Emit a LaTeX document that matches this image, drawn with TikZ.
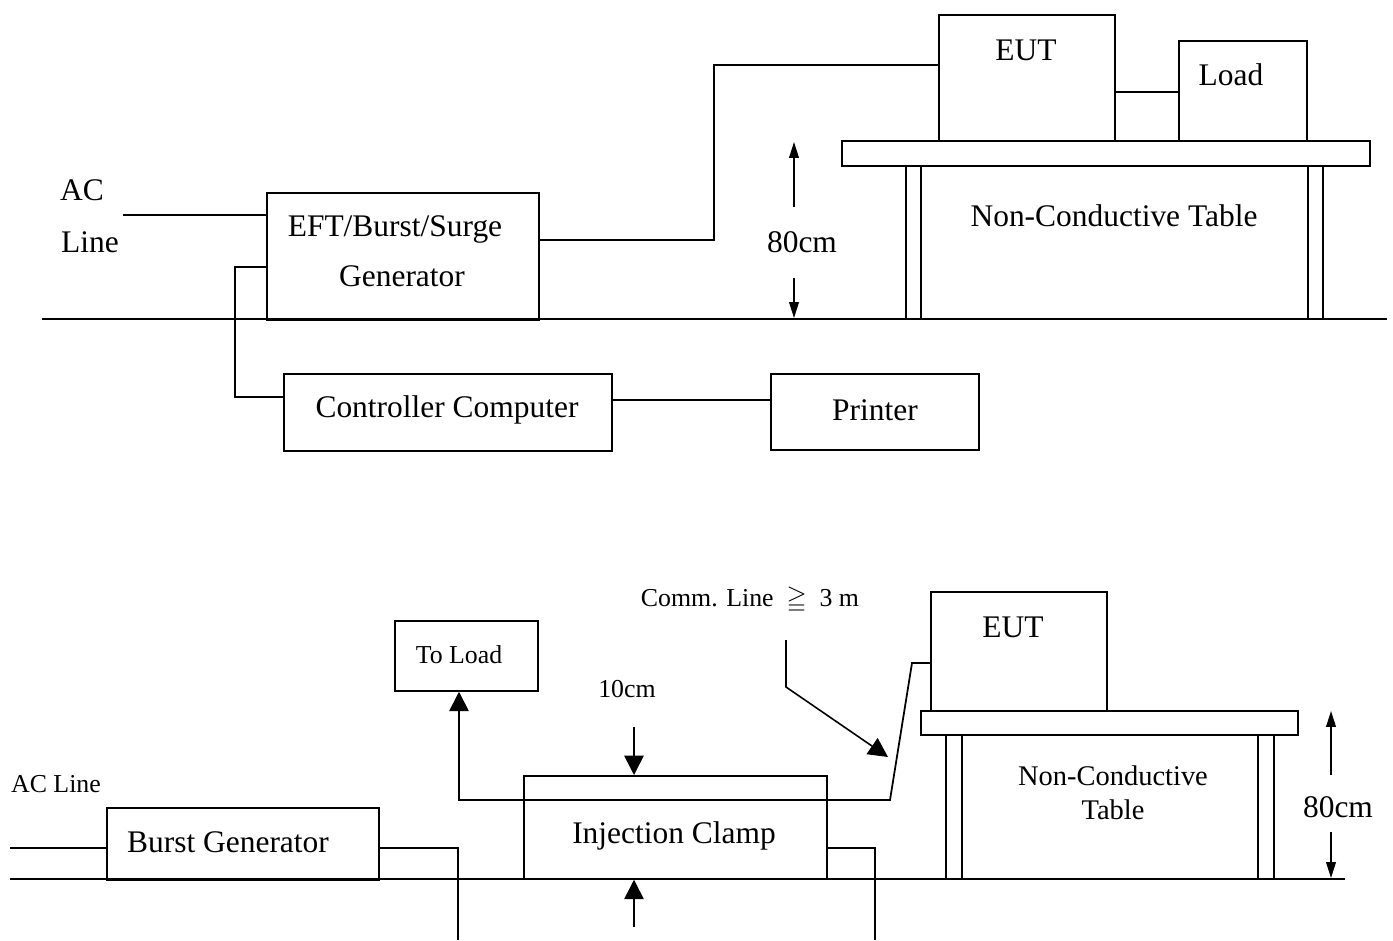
\documentclass[tikz,border=0pt]{standalone}
\usepackage{fontspec}
\setmainfont{Liberation Serif}
\usepackage{amssymb}
\usetikzlibrary{arrows.meta}

\tikzset{
    unit/.style={draw, line width=1pt, inner sep=0pt, anchor=north west},
    wire/.style={line width=1pt},
    bigtxt/.style={font=\fontsize{17.9}{21}\selectfont, inner sep=0pt},
    midtxt/.style={font=\fontsize{16.2}{19.3}\selectfont, inner sep=0pt, align=center},
    smalltxt/.style={font=\fontsize{14.7}{17}\selectfont, inner sep=0pt},
    dimarrow/.style={line width=0.9pt, -{Triangle[width=5.5pt,length=9pt]}},
    bigarrow/.style={line width=0.9pt, -{Triangle[width=11pt,length=11pt]}},
}

\begin{document}
\begin{tikzpicture}[x=0.02cm, y=-0.02cm]
    \useasboundingbox (0,0) rectangle (1393,940);

    % Upper set-up: generator, controller and printer
    \node[unit, minimum width=5.44cm, minimum height=2.54cm] (gen) at (266,192) {};
    \node[unit, minimum width=6.56cm, minimum height=1.54cm] (ctrl) at (283,373) {};
    \node[unit, minimum width=4.16cm, minimum height=1.52cm] (prn) at (770,373) {};
    \node[unit, minimum width=3.52cm, minimum height=2.52cm] (eut) at (938,14) {};
    \node[unit, minimum width=2.56cm, minimum height=2.00cm] (load) at (1178,40) {};

    \node[bigtxt] (acT) at (82,190) {AC};
    \node[bigtxt] (lineT) at (90,242) {Line};
    \node[bigtxt] (genA) at (395,229) {EFT/Burst/Surge};
    \node[bigtxt] (genB) at (402,276) {Generator};
    \node[bigtxt] (ctrlT) at (447,410) {Controller Computer};
    \node[bigtxt] (prnT) at (875,410) {Printer};
    \node[bigtxt] (eutT) at (1026,50) {EUT};
    \node[bigtxt] (loadT) at (1231,75) {Load};
    \node[bigtxt] (tabT) at (1114,216) {Non-Conductive Table};
    \node[bigtxt] (hT) at (802,242) {80cm};

    % Ground plane and table
    \draw[wire] (42,319) -- (1387,319);
    \draw[wire] (842,141) rectangle (1370,166);
    \foreach \x in {906,1308}
        {
            \draw[line width=0.7pt] (\x,166) rectangle (\x+15,319);
        }

    % Cables
    \coordinate (acA) at (123,215);
    \draw[wire] (acA) -- (acA -| gen.west);
    \coordinate (ctlB) at (235,397);
    \draw[wire] (gen.west |- 0,267) -| (ctlB) -- (ctlB -| ctrl.west);
    \draw[wire] (ctrl.east |- 0,400) -- (prn.west |- 0,400);
    \draw[wire] (gen.east |- 0,240) -| (714,65) -- (eut.west |- 0,65);
    \draw[wire] (eut.east |- 0,92) -- (load.west |- 0,92);

    % Height of the table
    \draw[dimarrow] (794,207) -- (794,142);
    \draw[dimarrow] (794,278) -- (794,318);

    % Lower set-up: burst generator and injection clamp
    \node[unit, minimum width=5.44cm, minimum height=1.44cm] (burst) at (106,807) {};
    \node[unit, minimum width=6.06cm, minimum height=2.06cm] (clamp) at (523,775) {};
    \node[unit, minimum width=2.86cm, minimum height=1.40cm] (toload) at (394,620) {};
    \node[unit, minimum width=3.52cm, minimum height=2.38cm] (eutb) at (930,591) {};

    \node[smalltxt] (acLine) at (56,784) {AC Line};
    \node[bigtxt] (burstT) at (228,842) {Burst Generator};
    \node[bigtxt] (clampT) at (674,836) {Injection Clamp};
    \node[smalltxt] (toloadT) at (459,655) {To Load};
    \node[smalltxt] (gapT) at (627,689) {10cm};
    \node[smalltxt] (commT) at (750,600) {Comm. Line \ $\geqq$ \ 3 m};
    \node[bigtxt] (eutbT) at (1013,627) {EUT};
    \node[midtxt] (tabbT) at (1113,793) {Non-Conductive\\Table};
    \node[bigtxt] (hbT) at (1338,807) {80cm};

    % Ground plane and table
    \draw[wire] (10,879) -- (1345,879);
    \draw[wire] (921,711) rectangle (1298,735);
    \foreach \x in {946,1258}
        {
            \draw[wire] (\x,735) rectangle (\x+16,879);
        }

    % Cables
    \coordinate (acB) at (10,848);
    \draw[wire] (acB) -- (acB -| burst.west);
    \draw[wire] (burst.east |- 0,848) -| (458,940);
    \draw[wire] (clamp.east |- 0,848) -| (875,940);
    \draw[wire, -{Triangle[width=11pt,length=11pt]}] (eutb.west |- 0,663) -- (912,663) -- (890,800)
        -- (459,800) -- (459,800 |- toload.south);
    \draw[bigarrow] (786,640) -- (786,687) -- (888,757);

    % Clamp position and table height
    \draw[bigarrow] (634,727) -- (634,0 |- clamp.north);
    \draw[bigarrow] (634,927) -- (634,0 |- clamp.south);
    \draw[dimarrow] (1331,775) -- (1331,711);
    \draw[dimarrow] (1331,832) -- (1331,878);

\end{tikzpicture}
\end{document}
